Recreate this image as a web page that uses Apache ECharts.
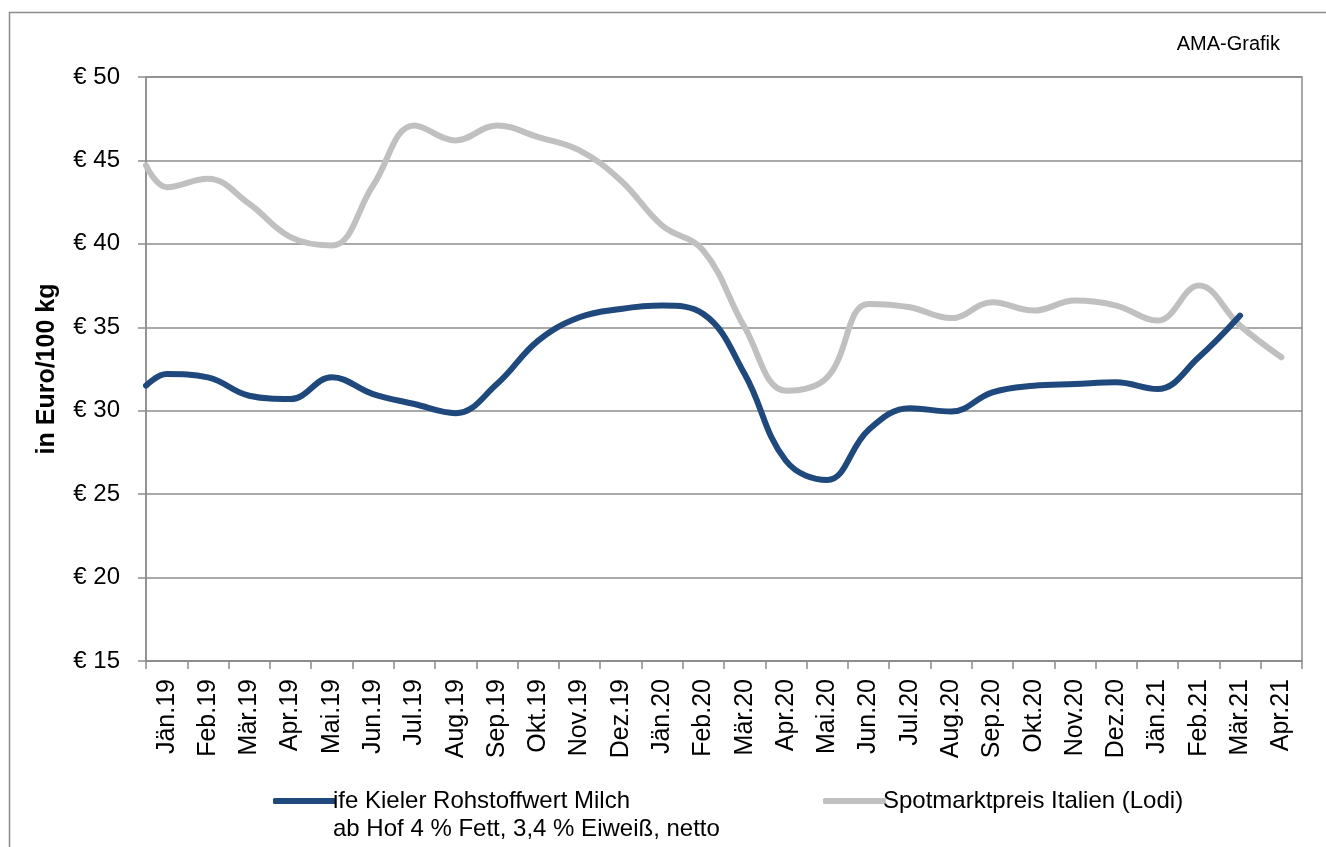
<!DOCTYPE html>
<html>
<head>
<meta charset="utf-8">
<script src="https://cdn.jsdelivr.net/npm/echarts@6/dist/echarts.min.js"></script>
<style>
html,body{margin:0;padding:0;background:#fff;}
#chart{width:1326px;height:847px;}
</style>
</head>
<body>
<div id="chart"></div>
<script>
// Category labels (months)
const monthLabels = ['Jän.19','Feb.19','Mär.19','Apr.19','Mai.19','Jun.19','Jul.19','Aug.19','Sep.19','Okt.19','Nov.19','Dez.19',
  'Jän.20','Feb.20','Mär.20','Apr.20','Mai.20','Jun.20','Jul.20','Aug.20','Sep.20','Okt.20','Nov.20','Dez.20',
  'Jän.21','Feb.21','Mär.21','Apr.21'];
// ife Kieler Rohstoffwert Milch (€/100 kg)
const kieler = [32.2,32.0,30.9,30.7,32.0,31.0,30.4,29.85,31.6,34.2,35.6,36.1,
  36.3,35.8,32.2,27.0,25.85,28.85,30.15,29.95,31.1,31.5,31.6,31.7,
  31.3,33.2,35.7,null];
// Spotmarktpreis Italien (Lodi) (€/100 kg)
const lodi = [43.4,43.9,42.4,40.4,39.9,43.5,47.1,46.2,47.1,46.4,45.6,43.8,
  41.1,39.6,35.0,31.2,32.0,36.4,36.2,35.55,36.5,36.0,36.6,36.3,
  35.4,37.5,35.1,33.2];
// values where the lines meet the left edge of the axis
const kielerAxisStart = 31.5;
const lodiAxisStart = 44.7;
// y-axis ticks
const yTicks = {min: 15, max: 50, step: 5};

const seriesNames = ['ife Kieler Rohstoffwert Milch', 'Spotmarktpreis Italien (Lodi)'];
const legendSecondLine = 'ab Hof 4 % Fett, 3,4 % Eiweiß, netto';

function toPairs(start, vals){
  const out = [[-0.5, start]];
  vals.forEach((v,i)=>{ if(v!==null) out.push([i, v]); });
  return out;
}

const FONT = 'Liberation Sans, Arial, sans-serif';
const chart = echarts.init(document.getElementById('chart'), null, {renderer:'canvas'});
chart.setOption({
  animation: false,
  backgroundColor: '#fff',
  textStyle: {fontFamily: FONT},
  grid: {left: 146, right: 24, top: 77, bottom: 186, show: true, borderColor: '#8c8c8c', borderWidth: 1.5, backgroundColor: 'transparent'},
  graphic: [
    {type: 'rect', left: 7, top: 10, shape: {width: 1400, height: 900}, style: {fill: 'none', stroke: '#8c8c8c', lineWidth: 1.5}, silent: true, z: -10},
    {type: 'text', right: 46, top: 34, style: {text: 'AMA-Grafik', font: '20px ' + FONT, fill: '#000'}},
    {type: 'text', left: 333, top: 817, style: {text: legendSecondLine, font: '24px ' + FONT, fill: '#000'}}
  ],
  legend: [
    {data: [seriesNames[0]], left: 268, top: 784, itemWidth: 63, itemHeight: 6, icon: 'roundRect', itemGap: 0,
     textStyle: {fontSize: 24, color: '#000', fontFamily: FONT, padding: [0,0,0,-8]}},
    {data: [seriesNames[1]], left: 818, top: 784, itemWidth: 63, itemHeight: 6, icon: 'roundRect', itemGap: 0,
     textStyle: {fontSize: 24, color: '#000', fontFamily: FONT, padding: [0,0,0,-8]}}
  ],
  xAxis: [
    {type: 'category', data: monthLabels, boundaryGap: true, position: 'bottom',
     axisLine: {show: true, lineStyle: {color: '#8c8c8c', width: 1.5}},
     axisTick: {show: true, interval: 0, length: 8, lineStyle: {color: '#8c8c8c', width: 1.5}},
     axisLabel: {interval: 0, rotate: 90, fontSize: 25, color: '#000', fontFamily: FONT, margin: 18},
     splitLine: {show: false}},
    {type: 'value', min: -0.5, max: 27.5, show: false}
  ],
  yAxis: {type: 'value', min: yTicks.min, max: yTicks.max, interval: yTicks.step,
    name: 'in Euro/100 kg', nameLocation: 'middle', nameGap: 86, nameRotate: 90,
    nameTextStyle: {fontSize: 25, fontWeight: 'bold', color: '#000', fontFamily: FONT},
    axisLine: {show: true, onZero: false, lineStyle: {color: '#8c8c8c', width: 1.5}},
    axisTick: {show: true, length: 8, lineStyle: {color: '#8c8c8c', width: 1.5}},
    axisLabel: {formatter: v => '€ ' + v, fontSize: 24, color: '#000', fontFamily: FONT, margin: 26},
    splitLine: {show: true, lineStyle: {color: '#8c8c8c', width: 1.5}}
  },
  series: [
    {name: seriesNames[0], type: 'line', xAxisIndex: 1, data: toPairs(kielerAxisStart, kieler),
     smooth: 0.4, showSymbol: false, symbol: 'none', lineStyle: {color: '#1f497d', width: 6, cap: 'round'}, itemStyle: {color: '#1f497d'}, z: 3},
    {name: seriesNames[1], type: 'line', xAxisIndex: 1, data: toPairs(lodiAxisStart, lodi),
     smooth: 0.4, showSymbol: false, symbol: 'none', lineStyle: {color: '#c0c0c0', width: 6, cap: 'round'}, itemStyle: {color: '#c0c0c0'}, z: 2}
  ]
});
</script>
</body>
</html>
